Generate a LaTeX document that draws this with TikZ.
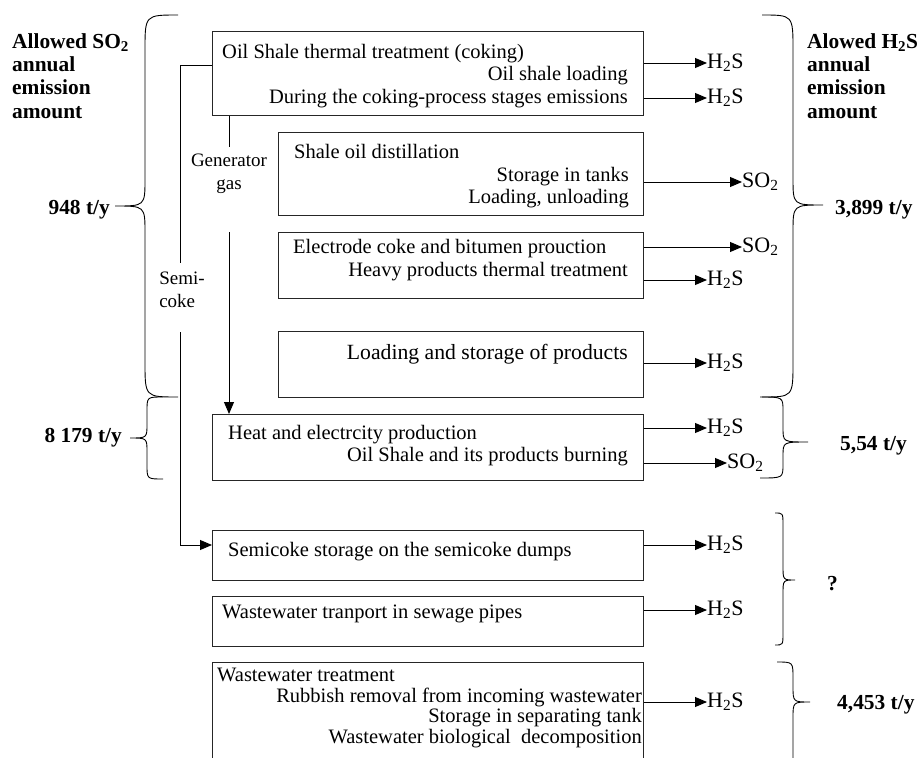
\documentclass[tikz,border=0pt]{standalone}
\usepackage{fontspec}
\setmainfont{Liberation Serif}
\usetikzlibrary{arrows.meta}

% curly brace: xend, xmid, xtip, ytop, ytip, ybot, end radius, tip radius
\newcommand{\cbrace}[8]{%
  \draw[curly] (#1,#4) .. controls (#2,#4) .. (#2,#4+#7)
    -- (#2,#5-#8) .. controls (#2,#5) .. (#3,#5)
    .. controls (#2,#5) .. (#2,#5+#8)
    -- (#2,#6-#7) .. controls (#2,#6) .. (#1,#6);}

\begin{document}
\begin{tikzpicture}[
    x=1pt, y=-1pt,
    box/.style={draw=black!85, line width=1.2pt, anchor=north west, inner sep=0pt},
    txt/.style={font=\fontsize{20.5}{22.5}\selectfont, inner sep=0pt},
    gas/.style={font=\fontsize{22}{24}\selectfont, inner sep=0pt, anchor=west},
    sidetxt/.style={font=\fontsize{19}{23}\selectfont, inner xsep=0pt},
    amount/.style={font=\bfseries\fontsize{21.4}{23.4}\selectfont, inner sep=0pt},
    flow/.style={-{Triangle[length=12pt,width=10pt]}, line width=0.9pt},
    line/.style={line width=0.9pt},
    curly/.style={line width=0.9pt}
]
    \useasboundingbox (0,0) rectangle (920,757);
    \clip (0,0) rectangle (920,757);

    % process boxes
    \node[box, minimum width=431pt, minimum height=84pt] (coking) at (212,31) {};
    \node[box, minimum width=365pt, minimum height=83pt] (distil) at (278,132) {};
    \node[box, minimum width=365pt, minimum height=66pt] (electrode) at (278,232) {};
    \node[box, minimum width=365pt, minimum height=66pt] (products) at (278,331) {};
    \node[box, minimum width=431pt, minimum height=66pt] (heat) at (212,414) {};
    \node[box, minimum width=431pt, minimum height=50pt] (semicoke) at (212,530) {};
    \node[box, minimum width=431pt, minimum height=50pt] (sewage) at (212,596) {};
    \node[box, minimum width=431pt, minimum height=130pt] (treat) at (212,662) {};

    % texts in the boxes
    \node[txt, anchor=base west] (cokingA) at (222,59) {Oil Shale thermal treatment (coking)};
    \node[txt, anchor=base east] (cokingB) at (628,81) {Oil shale loading};
    \node[txt, anchor=base east] (cokingC) at (628,104) {During the coking-process stages emissions};

    \node[txt, anchor=base west] (distilA) at (294,158) {Shale oil distillation};
    \node[txt, anchor=base east] (distilB) at (629,181) {Storage in tanks};
    \node[txt, anchor=base east] (distilC) at (629,203) {Loading, unloading};

    \node[txt, anchor=base west] (electrodeA) at (293,253) {Electrode coke and bitumen prouction};
    \node[txt, anchor=base east] (electrodeB) at (628,276) {Heavy products thermal treatment};

    \node[txt, anchor=base east, font=\fontsize{21.7}{23}\selectfont] (productsA) at (628,359) {Loading and storage of products};

    \node[txt, anchor=base west] (heatA) at (228,439) {Heat and electrcity production};
    \node[txt, anchor=base east] (heatB) at (628,461) {Oil Shale and its products burning};

    \node[txt, anchor=base west] (semicokeA) at (228,556) {Semicoke storage on the semicoke dumps};

    \node[txt, anchor=base west] (sewageA) at (222,618) {Wastewater tranport in sewage pipes};

    \node[txt, anchor=base west] (treatA) at (217,681) {Wastewater treatment};
    \node[txt, anchor=base east] (treatB) at (642,702) {Rubbish removal from incoming wastewater};
    \node[txt, anchor=base east] (treatC) at (642,722) {Storage in separating tank};
    \node[txt, anchor=base east] (treatD) at (642,743) {Wastewater biological\ \ decomposition};

    % emissions
    \node[gas] (h1) at (707,63) {H\textsubscript{2}S};
    \node[gas] (h2) at (707,98) {H\textsubscript{2}S};
    \node[gas] (s1) at (742,182) {SO\textsubscript{2}};
    \node[gas] (s2) at (742,247) {SO\textsubscript{2}};
    \node[gas] (h3) at (707,280) {H\textsubscript{2}S};
    \node[gas] (h4) at (707,363) {H\textsubscript{2}S};
    \node[gas] (h5) at (707,428) {H\textsubscript{2}S};
    \node[gas] (s3) at (727,463) {SO\textsubscript{2}};
    \node[gas] (h6) at (707,545) {H\textsubscript{2}S};
    \node[gas] (h7) at (707,610) {H\textsubscript{2}S};
    \node[gas] (h8) at (707,702) {H\textsubscript{2}S};

    \draw[flow] (coking.east |- h1.west) -- (h1.west);
    \draw[flow] (coking.east |- h2.west) -- (h2.west);
    \draw[flow] (distil.east |- s1.west) -- (s1.west);
    \draw[flow] (electrode.east |- s2.west) -- (s2.west);
    \draw[flow] (electrode.east |- h3.west) -- (h3.west);
    \draw[flow] (products.east |- h4.west) -- (h4.west);
    \draw[flow] (heat.east |- h5.west) -- (h5.west);
    \draw[flow] (heat.east |- s3.west) -- (s3.west);
    \draw[flow] (semicoke.east |- h6.west) -- (h6.west);
    \draw[flow] (sewage.east |- h7.west) -- (h7.west);
    \draw[flow] (treat.east |- h8.west) -- (h8.west);

    % generator gas
    \node[sidetxt, anchor=north, inner ysep=7pt, align=center] (gen) at (229,147) {Generator\\gas};
    \coordinate (genout) at (229,232);
    \draw[line] (coking.south -| gen.north) -- (gen.north);
    \draw[flow] (genout) -- (genout |- heat.north);

    % semi-coke
    \coordinate (semibend) at (180,65);
    \coordinate (semiout) at (180,332);
    \coordinate (semidown) at (180,545);
    \node[sidetxt, anchor=north, inner ysep=9pt, align=left] (semi) at (182,263) {Semi-\\coke};
    \draw[line] (coking.west |- semibend) -- (semibend) -- (semibend |- semi.north);
    \draw[flow] (semiout) -- (semidown) -- (semicoke.west |- h6.west);

    % braces
    \cbrace{178}{145}{115}{15}{206}{397}{35}{27}
    \cbrace{163}{147}{130}{397}{438}{479}{14}{14}
    \cbrace{762}{793}{823}{15}{205}{397}{35}{27}
    \cbrace{760}{783}{808}{397}{442}{478}{14}{14}
    \cbrace{775}{783}{795}{513}{580}{645}{12}{14}
    \cbrace{777}{793}{810}{662}{702}{800}{16}{16}

    % amounts
    \node[amount, anchor=north west, align=left] (so2head) at (12,33) {Allowed SO\textsubscript{2}\\annual\\emission\\amount};
    \node[amount, anchor=north west, align=left] (h2shead) at (807,33) {Alowed H\textsubscript{2}S\\annual\\emission\\amount};
    \node[amount, anchor=base east] (so2a) at (110,214) {948 t/y};
    \node[amount, anchor=base east] (so2b) at (122,442) {8 179 t/y};
    \node[amount, anchor=base west] (h2sa) at (835,214) {3,899 t/y};
    \node[amount, anchor=base west] (h2sb) at (840,450) {5,54 t/y};
    \node[amount, anchor=base west] (h2sc) at (827,590) {?};
    \node[amount, anchor=base west] (h2sd) at (837,709) {4,453 t/y};

\end{tikzpicture}
\end{document}
